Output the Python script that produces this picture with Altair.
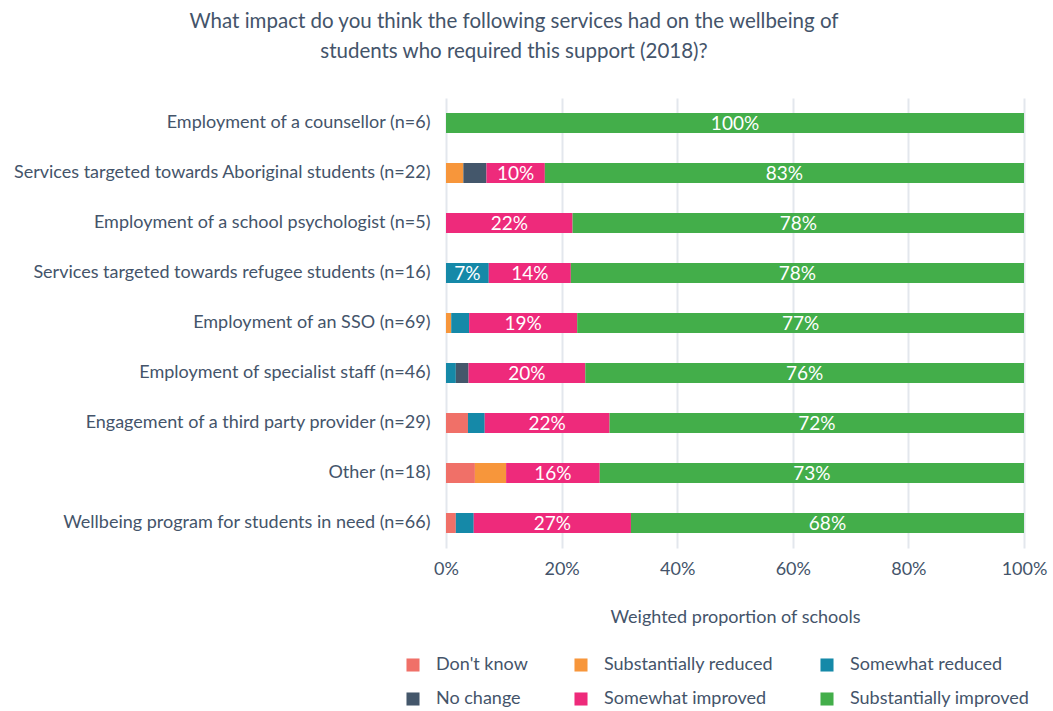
import altair as alt
import pandas as pd

services = [
    "Employment of a counsellor (n=6)",
    "Services targeted towards Aboriginal students (n=22)",
    "Employment of a school psychologist (n=5)",
    "Services targeted towards refugee students (n=16)",
    "Employment of an SSO (n=69)",
    "Employment of specialist staff (n=46)",
    "Engagement of a third party provider (n=29)",
    "Other (n=18)",
    "Wellbeing program for students in need (n=66)",
]
categories = ["Don't know", "Substantially reduced", "Somewhat reduced",
              "No change", "Somewhat improved", "Substantially improved"]
colors = ["#F07068", "#F7963B", "#1589A8", "#44576B", "#EE2A7B", "#43AE4A"]

dont_know =              [0,   0,    0,    0,    0,    0,    3.8,  5.0,  1.7]
substantially_reduced =  [0,   3.0,  0,    0,    0.9,  0,    0,    5.4,  0]
somewhat_reduced =       [0,   0,    0,    7.4,  3.1,  1.7,  2.9,  0,    3.1]
no_change =              [0,   4.0,  0,    0,    0,    2.2,  0,    0,    0]
somewhat_improved =      [0,   10.1, 21.9, 14.2, 18.7, 20.2, 21.6, 16.2, 27.2]
substantially_improved = [100, 82.9, 78.1, 78.4, 77.3, 75.9, 71.7, 73.4, 68.0]

series = [dont_know, substantially_reduced, somewhat_reduced,
          no_change, somewhat_improved, substantially_improved]

rows = []
for ci, (cat, vals) in enumerate(zip(categories, series)):
    for s, v in zip(services, vals):
        if v > 0:
            rows.append({"service": s, "category": cat, "order": ci, "value": v})
df = pd.DataFrame(rows)

FONT = "Lato"
TEXT = "#44546A"

base = alt.Chart(df).transform_stack(
    stack="value", groupby=["service"], sort=[alt.SortField("order")], as_=["x0", "x1"]
).transform_calculate(
    mid="(datum.x0 + datum.x1) / 2",
    label="format(datum.value / 100, '.0%')",
)

y_enc = alt.Y("service:N", sort=services, title=None,
              scale=alt.Scale(paddingInner=0.6, paddingOuter=0.3),
              axis=alt.Axis(labelFontSize=18, labelColor=TEXT, labelFont=FONT,
                            labelPadding=16, labelLimit=600, ticks=False, domain=False))

bars = base.mark_bar().encode(
    x=alt.X("x0:Q", scale=alt.Scale(domain=[0, 100]),
            title="Weighted proportion of schools",
            axis=alt.Axis(values=[0, 20, 40, 60, 80, 100], labelExpr="datum.value + '%'",
                          labelFlush=False, labelFontSize=18, labelColor=TEXT, labelFont=FONT,
                          labelPadding=12, ticks=False, domain=False,
                          gridColor="#E3E7ED", gridWidth=2,
                          titleFontSize=18, titleColor=TEXT, titleFont=FONT,
                          titleFontWeight="normal", titlePadding=30)),
    x2="x1:Q",
    y=y_enc,
    color=alt.Color("category:N", sort=categories,
                    scale=alt.Scale(domain=categories, range=colors),
                    legend=alt.Legend(title=None, orient="none", legendX=-42, legendY=558,
                                      direction="horizontal",
                                      columns=3, columnPadding=44, rowPadding=16,
                                      symbolType="square", symbolSize=170,
                                      symbolStrokeWidth=0, labelFontSize=18, labelLimit=400,
                                      labelColor=TEXT, labelFont=FONT, labelOffset=14)),
    order=alt.Order("order:Q"),
)

texts = base.transform_filter("datum.value >= 6.5").mark_text(
    color="white", fontSize=19, font=FONT, baseline="middle", align="center", dy=1
).encode(
    x=alt.X("mid:Q"),
    y=alt.Y("service:N", sort=services),
    text="label:N",
)

chart = alt.layer(bars, texts).properties(
    width=578, height=450,
    padding={"left": 446, "top": 98, "right": 29, "bottom": 163},
    autosize=alt.AutoSizeParams(type="none"),
    title=alt.TitleParams(
        text=["What impact do you think the following services had on the wellbeing of",
              "students who required this support (2018)?"],
        fontSize=20.5, font=FONT, color=TEXT, fontWeight="normal",
        anchor="middle", lineHeight=30, offset=36, dx=-221),
).configure_view(stroke=None)

chart.save("out.html", embed_options={"renderer": "svg", "actions": False})
